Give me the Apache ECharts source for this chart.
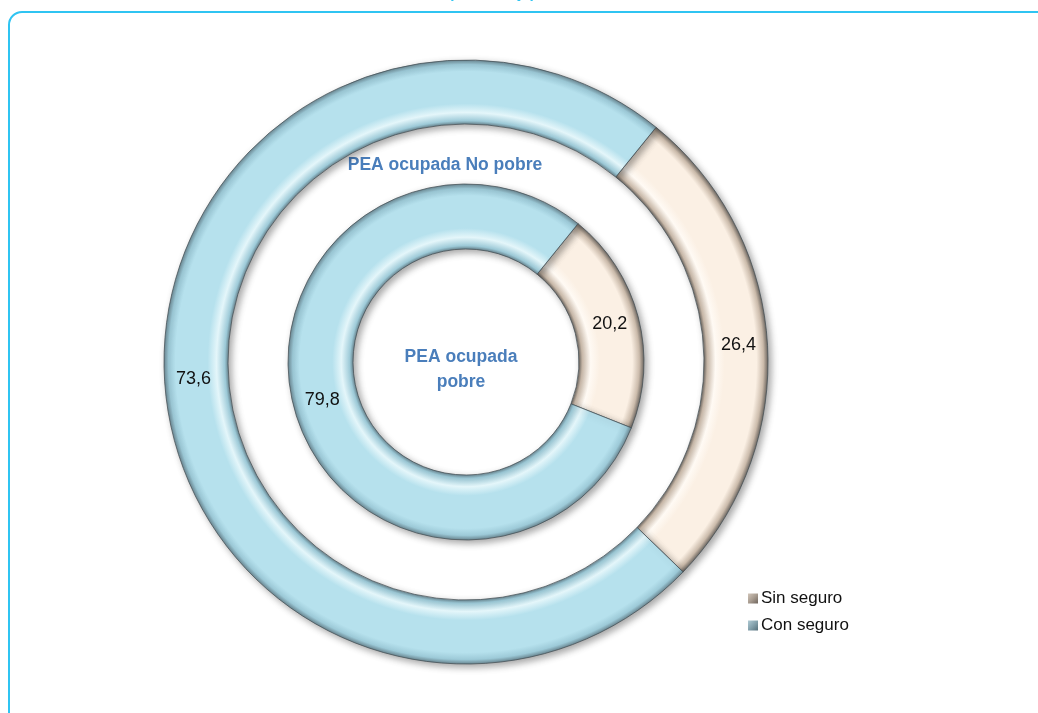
<!DOCTYPE html>
<html>
<head>
<meta charset="utf-8">
<style>
html,body{margin:0;padding:0;background:#fff;}
#chart{width:1038px;height:713px;}
</style>
<script src="https://cdn.jsdelivr.net/npm/echarts@6/dist/echarts.min.js"></script>
</head>
<body>
<div id="chart"></div>
<script>
// ---- data ----
const categories = ['Sin seguro', 'Con seguro'];
const ringNames = ['PEA ocupada No pobre', 'PEA ocupada pobre'];
const outerValues = [26.4, 73.6];   // PEA ocupada No pobre
const innerValues = [20.2, 79.8];   // PEA ocupada pobre

// ---- styling helpers ----
const CX = 466, CY = 362;
const palettes = {
  'Sin seguro': { dark: '#6e6862', edge: '#cbbbab', body: '#fbf0e4', light: '#fffaf4' },
  'Con seguro': { dark: '#6b8893', edge: '#9dcad8', body: '#b6e1ed', light: '#e4f6fa' }
};
function ringFill(name, rIn, rOut) {
  const p = palettes[name];
  const a = rIn / rOut;
  const w = 1 - a;
  return {
    type: 'radial', x: CX, y: CY, r: rOut, global: true,
    colorStops: [
      { offset: 0, color: p.dark },
      { offset: a, color: p.dark },
      { offset: a + w * 0.05, color: p.edge },
      { offset: a + w * 0.18, color: p.light },
      { offset: a + w * 0.32, color: p.body },
      { offset: a + w * 0.82, color: p.body },
      { offset: a + w * 0.93, color: p.edge },
      { offset: 1, color: p.dark }
    ]
  };
}
function buildData(values, rIn, rOut) {
  return categories.map((c, i) => ({
    name: c,
    value: values[i],
    itemStyle: { color: ringFill(c, rIn, rOut) }
  }));
}
const fmt = p => p.value.toFixed(1).replace('.', ',');

const baseSeries = {
  type: 'pie',
  center: [CX, CY],
  startAngle: 51,
  clockwise: true,
  avoidLabelOverlap: false,
  silent: true,
  label: {
    show: true, position: 'inside', formatter: fmt,
    color: '#111', fontSize: 18, fontFamily: 'Liberation Sans, Arial, sans-serif'
  },
  labelLine: { show: false },
  itemStyle: {
    borderColor: 'rgba(70,80,85,0.75)', borderWidth: 1,
    shadowBlur: 7, shadowOffsetX: 3, shadowOffsetY: 3, shadowColor: 'rgba(0,0,0,0.35)'
  },
  emphasis: { disabled: true }
};

const chart = echarts.init(document.getElementById('chart'), null, { renderer: 'canvas' });
chart.setOption({
  backgroundColor: '#fff',
  animation: false,
  legend: {
    orient: 'vertical',
    left: 743, top: 585,
    itemWidth: 10, itemHeight: 10, itemGap: 10,
    selectedMode: false,
    itemStyle: { borderWidth: 0, shadowBlur: 0, shadowOffsetX: 0, shadowOffsetY: 0 },
    textStyle: { fontSize: 17, color: '#111', fontFamily: 'Liberation Sans, Arial, sans-serif', padding: [0, 0, 0, -2] },
    data: [
      { name: 'Sin seguro', icon: 'rect', itemStyle: { borderWidth: 0, color: { type: 'linear', x: 0, y: 0, x2: 1, y2: 1, colorStops: [{ offset: 0, color: '#d2c6ba' }, { offset: 0.5, color: '#a89c90' }, { offset: 1, color: '#6f655d' }] } } },
      { name: 'Con seguro', icon: 'rect', itemStyle: { borderWidth: 0, color: { type: 'linear', x: 0, y: 0, x2: 1, y2: 1, colorStops: [{ offset: 0, color: '#b0cbd5' }, { offset: 0.5, color: '#85a2ad' }, { offset: 1, color: '#55707b' }] } } }
    ]
  },
  graphic: [
    { type: 'rect', silent: true, shape: { x: 9, y: 12, width: 1200, height: 900, r: 13 },
      style: { fill: 'none', stroke: '#2fc4f2', lineWidth: 2 } },
    { type: 'text', silent: true, x: 492, y: -14,
      style: { text: '(Porcentaje)', fill: '#2fc4f2', font: 'bold 15px Liberation Sans, Arial, sans-serif', textAlign: 'center' } },
    { type: 'text', silent: true, x: 445, y: 165,
      style: { text: 'PEA ocupada No pobre', fill: '#4a7ebb', font: 'bold 17.5px Liberation Sans, Arial, sans-serif', textAlign: 'center', textVerticalAlign: 'middle' } },
    { type: 'text', silent: true, x: 461, y: 370,
      style: { text: 'PEA ocupada\npobre', fill: '#4a7ebb', font: 'bold 17.5px Liberation Sans, Arial, sans-serif', lineHeight: 25, textAlign: 'center', textVerticalAlign: 'middle' } }
  ],
  series: [
    Object.assign({}, baseSeries, { name: ringNames[0], radius: [238, 302], data: buildData(outerValues, 238, 302) }),
    Object.assign({}, baseSeries, { name: ringNames[1], radius: [113, 178], data: buildData(innerValues, 113, 178) })
  ]
});
</script>
</body>
</html>
